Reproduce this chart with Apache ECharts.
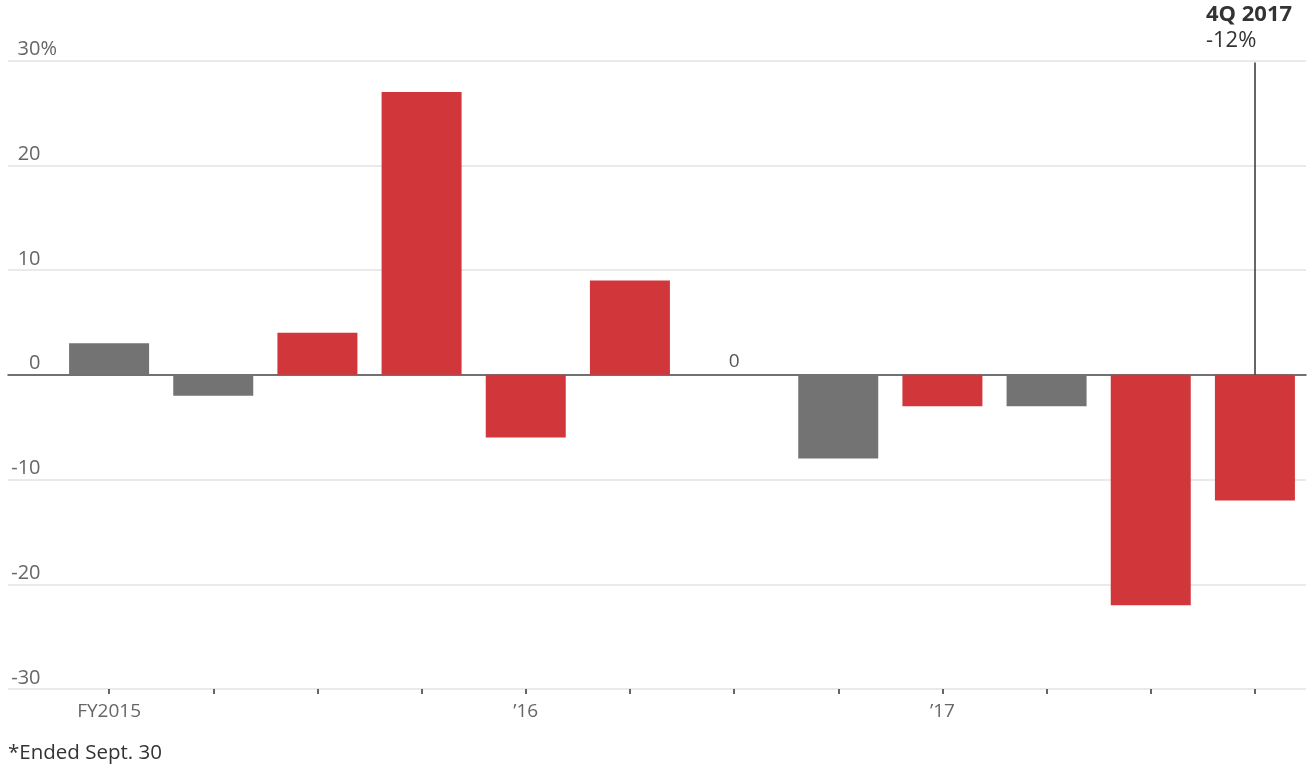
<!DOCTYPE html>
<html>
<head>
<meta charset="utf-8">
<script src="https://cdn.jsdelivr.net/npm/echarts@6/dist/echarts.min.js"></script>
<style>
html,body{margin:0;padding:0;background:#fff;}
#chart{width:1308px;height:776px;}
</style>
</head>
<body>
<div id="chart"></div>
<script>
// Quarterly change, fiscal quarters (fiscal year ended Sept. 30)
const categories = ['1Q 2015','2Q 2015','3Q 2015','4Q 2015','1Q 2016','2Q 2016','3Q 2016','4Q 2016','1Q 2017','2Q 2017','3Q 2017','4Q 2017'];
const tickLabels = ['FY2015','','','','\u201916','','','','\u201917','','',''];
const redValues  = [null, null, 4, 27, -6, 9, 0, null, -3, null, -22, -12];
const grayValues = [3, -2, null, null, null, null, null, -8, null, -3, null, null];
const yTicks = [-30, -20, -10, 0, 10, 20, 30];
const annotationTitle = '4Q 2017';
const annotationValue = '-12%';
const annotationTop = 29.8;

const FONT = '"Open Sans", Lato, sans-serif';
const YFS = 20;
const chart = echarts.init(document.getElementById('chart'));

chart.setOption({
  animation: false,
  backgroundColor: '#ffffff',
  textStyle: { fontFamily: FONT },
  grid: [
    { left: 8, right: 2, top: 60.5, bottom: 87 },
    { left: 57, right: 1, top: 60.5, bottom: 87 }
  ],
  xAxis: [
    {
      gridIndex: 0, type: 'value', min: 0, max: 1, show: true,
      axisLine: { show: true, onZero: true, lineStyle: { color: '#4a4a4a', width: 1.5 } },
      axisTick: { show: false }, axisLabel: { show: false }, splitLine: { show: false }
    },
    {
      gridIndex: 1, type: 'category', data: categories,
      axisLine: { show: false, onZero: false },
      axisTick: { show: true, alignWithLabel: true, interval: 0, length: 5, lineStyle: { color: '#333', width: 1.5 } },
      axisLabel: {
        interval: 0, margin: 13, color: '#666', fontSize: 19, fontFamily: FONT,
        formatter: (v, i) => tickLabels[i]
      }
    }
  ],
  yAxis: [
    {
      gridIndex: 0, type: 'value', min: yTicks[0], max: yTicks[yTicks.length - 1], interval: 10,
      axisLine: { show: false }, axisTick: { show: false },
      splitLine: { show: true, lineStyle: { color: '#e3e3e3', width: 1.5 } },
      axisLabel: {
        inside: true, align: 'right', verticalAlign: 'bottom', margin: 49,
        padding: [0, 0, 1, 0],
        color: '#666', fontSize: YFS, fontFamily: FONT,
        formatter: v => v === yTicks[yTicks.length - 1] ? '{a|' + v + '%}' : '{b|' + v + '}',
        rich: {
          a: { color: '#666', fontSize: YFS, fontFamily: FONT },
          b: { color: '#666', fontSize: YFS, fontFamily: FONT, padding: [0, 16.5, 0, 0] }
        }
      }
    },
    {
      gridIndex: 1, type: 'value', min: yTicks[0], max: yTicks[yTicks.length - 1], interval: 10,
      show: false, splitLine: { show: false }
    }
  ],
  series: [
    {
      type: 'bar', name: 'gray', xAxisIndex: 1, yAxisIndex: 1,
      data: grayValues, barWidth: 80, barGap: '-100%',
      itemStyle: { color: '#737373' }
    },
    {
      type: 'bar', name: 'red', xAxisIndex: 1, yAxisIndex: 1,
      data: redValues, barWidth: 80, barGap: '-100%',
      itemStyle: { color: '#d1363b' },
      label: {
        show: true, position: 'top', distance: 4, color: '#555', fontSize: 19, fontFamily: FONT,
        formatter: p => (p.value === 0 ? '0' : '')
      },
      markLine: {
        silent: true, symbol: ['none', 'none'],
        lineStyle: { color: '#333', width: 1.5, type: 'solid' },
        label: { show: false },
        data: [[{ coord: [categories[11], 0] }, { coord: [categories[11], annotationTop] }]]
      },
      markPoint: {
        silent: true, symbol: 'circle', symbolSize: 0,
        data: [{ coord: [categories[11], annotationTop] }],
        label: {
          show: true, position: 'top', align: 'left', offset: [-49, -4],
          formatter: '{t|' + annotationTitle + '}\n{v|' + annotationValue + '}',
          rich: {
            t: { fontSize: 22, fontWeight: 'bold', color: '#333', fontFamily: FONT, lineHeight: 26 },
            v: { fontSize: 22, color: '#333', fontFamily: FONT, lineHeight: 26 }
          }
        }
      }
    }
  ],
  graphic: [
    {
      type: 'text', left: 8, top: 743,
      style: { text: '*Ended Sept. 30', fill: '#333', fontSize: 20.5, fontFamily: FONT }
    }
  ]
});
</script>
</body>
</html>
